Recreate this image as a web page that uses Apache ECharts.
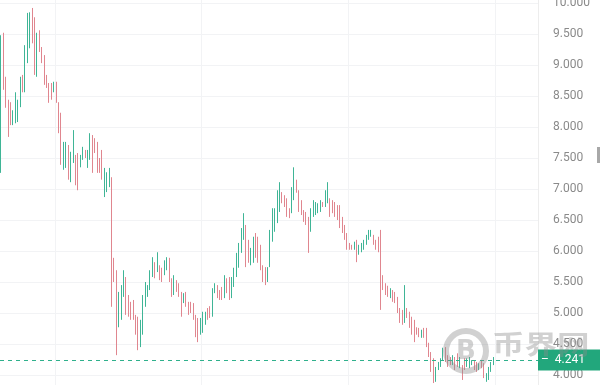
<!DOCTYPE html>
<html>
<head>
<meta charset="utf-8">
<script src="https://cdn.jsdelivr.net/npm/echarts@6/dist/echarts.min.js"></script>
<style>
  html, body { margin: 0; padding: 0; background: #fff; }
  #main { width: 600px; height: 385px; }
</style>
</head>
<body>
<div id="main"></div>
<script>
// daily candles, each row: [open, close, low, high]
const ohlc = [
  [7.26, 9.40, 7.26, 9.48], [9.46, 8.63, 8.60, 9.52], [8.81, 8.31, 8.31, 8.81], [8.44, 7.84, 7.84, 8.44], [8.40, 8.03, 8.03, 8.40],
  [8.03, 8.27, 8.03, 8.27], [8.06, 8.56, 8.06, 8.56], [8.08, 8.44, 8.08, 8.44], [8.32, 8.81, 8.32, 8.81], [8.84, 8.56, 8.56, 8.84],
  [8.56, 9.32, 8.56, 9.32], [9.03, 9.84, 9.03, 9.84], [9.27, 9.85, 9.27, 9.85], [9.92, 9.35, 9.35, 9.92], [9.77, 8.84, 8.84, 9.77],
  [8.81, 9.52, 8.81, 9.52], [9.56, 9.21, 9.21, 9.56], [9.29, 9.03, 9.03, 9.29], [9.16, 8.68, 8.68, 9.16], [8.84, 8.63, 8.63, 8.84],
  [8.71, 8.39, 8.39, 8.71], [8.71, 8.44, 8.44, 8.71], [8.56, 8.73, 8.56, 8.73], [8.73, 8.39, 8.39, 8.73], [8.40, 7.90, 7.90, 8.40],
  [8.23, 7.39, 7.39, 8.23], [7.31, 7.76, 7.31, 7.76], [7.34, 7.76, 7.34, 7.76], [7.71, 7.15, 7.15, 7.71], [7.11, 7.60, 7.11, 7.60],
  [7.42, 7.95, 7.42, 7.95], [7.55, 7.06, 7.06, 7.55], [7.58, 6.98, 6.98, 7.58], [7.35, 7.55, 7.35, 7.55], [7.47, 7.68, 7.47, 7.68],
  [7.63, 7.50, 7.50, 7.63], [7.34, 7.63, 7.34, 7.63], [7.47, 7.90, 7.47, 7.90], [7.87, 7.26, 7.26, 7.87], [7.82, 7.58, 7.58, 7.82],
  [7.76, 7.26, 7.26, 7.76], [7.50, 7.26, 7.26, 7.50], [7.63, 7.15, 7.15, 7.63], [6.87, 7.34, 6.87, 7.34], [6.95, 7.27, 6.95, 7.27],
  [7.03, 7.34, 7.03, 7.34], [7.18, 5.10, 5.10, 7.19], [5.89, 5.50, 5.50, 5.89], [5.69, 4.92, 4.32, 5.69], [4.77, 5.34, 4.77, 5.34],
  [4.89, 5.45, 4.89, 5.45], [5.26, 5.69, 5.26, 5.69], [5.58, 4.97, 4.97, 5.58], [5.29, 4.94, 4.94, 5.29], [5.18, 4.89, 4.89, 5.18],
  [5.21, 4.89, 4.89, 5.21], [4.97, 4.65, 4.65, 4.97], [4.94, 4.40, 4.40, 4.94], [4.45, 4.89, 4.45, 4.89], [4.65, 5.29, 4.65, 5.29],
  [5.10, 5.50, 5.10, 5.50], [5.26, 5.45, 5.26, 5.45], [5.37, 5.69, 5.37, 5.69], [5.58, 5.90, 5.58, 5.90], [5.82, 5.56, 5.56, 5.82],
  [5.66, 5.98, 5.66, 5.98], [5.77, 5.53, 5.53, 5.77], [5.73, 5.50, 5.50, 5.73], [5.61, 5.85, 5.61, 5.85], [5.69, 5.90, 5.69, 5.90],
  [5.89, 5.50, 5.50, 5.89], [5.56, 5.26, 5.26, 5.56], [5.29, 5.61, 5.29, 5.61], [5.53, 5.34, 5.34, 5.53], [5.48, 5.26, 5.26, 5.48],
  [5.34, 4.94, 4.94, 5.34], [5.16, 5.32, 5.16, 5.32], [5.34, 5.10, 5.10, 5.34], [5.18, 4.97, 4.97, 5.18], [5.18, 5.00, 5.00, 5.18],
  [5.16, 4.89, 4.89, 5.16], [4.97, 4.61, 4.61, 4.97], [4.92, 4.53, 4.53, 4.92], [4.65, 4.92, 4.65, 4.92], [4.68, 5.02, 4.68, 5.02],
  [4.81, 5.02, 4.81, 5.02], [5.08, 4.89, 4.89, 5.08], [5.11, 4.92, 4.92, 5.11], [4.94, 5.40, 4.94, 5.40], [5.32, 5.48, 5.32, 5.48],
  [5.45, 5.24, 5.24, 5.45], [5.37, 5.21, 5.21, 5.37], [5.42, 5.21, 5.21, 5.42], [5.24, 5.61, 5.24, 5.61], [5.56, 5.32, 5.32, 5.56],
  [5.58, 5.21, 5.21, 5.58], [5.24, 5.58, 5.24, 5.58], [5.42, 5.73, 5.42, 5.73], [5.58, 5.97, 5.58, 5.97], [5.73, 6.13, 5.73, 6.13],
  [5.97, 6.37, 5.97, 6.37], [6.18, 6.61, 6.18, 6.61], [6.42, 5.74, 5.74, 6.42], [6.18, 5.81, 5.81, 6.18], [5.77, 6.05, 5.77, 6.05],
  [5.81, 6.23, 5.81, 6.23], [6.29, 5.89, 5.89, 6.29], [6.23, 5.81, 5.81, 6.23], [6.10, 5.69, 5.69, 6.10], [5.77, 5.50, 5.50, 5.77],
  [5.74, 5.45, 5.45, 5.74], [5.50, 5.74, 5.50, 5.74], [5.74, 6.34, 5.74, 6.34], [6.15, 6.69, 6.15, 6.69], [6.31, 6.69, 6.31, 6.69],
  [6.45, 6.98, 6.45, 6.98], [6.63, 7.11, 6.63, 7.11], [6.95, 6.77, 6.77, 6.95], [6.90, 6.71, 6.71, 6.90], [6.85, 6.55, 6.55, 6.85],
  [6.69, 6.53, 6.53, 6.69], [6.61, 7.03, 6.61, 7.03], [6.82, 7.27, 6.82, 7.35], [7.15, 6.94, 6.94, 7.15], [6.98, 6.63, 6.63, 6.98],
  [6.82, 6.58, 6.58, 6.82], [6.66, 6.47, 6.47, 6.66], [6.63, 6.42, 6.42, 6.63], [6.55, 5.97, 5.97, 6.55], [6.31, 6.69, 6.31, 6.69],
  [6.55, 6.82, 6.55, 6.82], [6.58, 6.79, 6.58, 6.79], [6.61, 6.77, 6.61, 6.77], [6.63, 6.82, 6.63, 6.82], [6.79, 6.71, 6.71, 6.79],
  [6.71, 6.98, 6.71, 6.98], [6.77, 7.11, 6.77, 7.11], [6.85, 6.55, 6.55, 6.85], [6.82, 6.61, 6.61, 6.82], [6.79, 6.55, 6.55, 6.79],
  [6.74, 6.50, 6.50, 6.74], [6.74, 6.37, 6.37, 6.74], [6.55, 6.29, 6.29, 6.55], [6.42, 6.18, 6.18, 6.42], [6.29, 6.02, 6.02, 6.29],
  [6.13, 6.02, 6.02, 6.13], [6.10, 6.02, 6.02, 6.10], [6.02, 6.15, 6.02, 6.15], [6.18, 5.82, 5.82, 6.18], [5.94, 6.10, 5.94, 6.10],
  [5.98, 6.13, 5.98, 6.13], [6.02, 6.18, 6.02, 6.18], [6.10, 6.26, 6.10, 6.26], [6.18, 6.34, 6.18, 6.34], [6.23, 6.34, 6.23, 6.34],
  [6.26, 6.10, 6.10, 6.26], [6.18, 6.02, 6.02, 6.18], [6.23, 5.98, 5.98, 6.23], [6.34, 5.05, 5.05, 6.34], [5.61, 5.37, 5.37, 5.61],
  [5.48, 5.29, 5.29, 5.48], [5.44, 5.26, 5.26, 5.44], [5.24, 5.40, 5.24, 5.40], [5.37, 5.18, 5.18, 5.37], [5.34, 5.16, 5.16, 5.34],
  [5.26, 5.00, 5.00, 5.26], [5.08, 4.84, 4.84, 5.08], [5.05, 4.81, 4.81, 5.05], [4.84, 5.45, 4.84, 5.45], [5.08, 4.92, 4.92, 5.08],
  [5.02, 4.76, 4.76, 5.02], [4.94, 4.65, 4.65, 4.94], [4.89, 4.53, 4.53, 4.89], [4.77, 4.65, 4.65, 4.77], [4.76, 4.61, 4.61, 4.76],
  [4.60, 4.73, 4.60, 4.73], [4.76, 4.60, 4.60, 4.76], [4.76, 4.45, 4.45, 4.76], [4.52, 4.29, 4.29, 4.52], [4.37, 4.05, 4.05, 4.37],
  [4.27, 3.87, 3.87, 4.27], [3.89, 4.13, 3.89, 4.13], [4.08, 4.21, 4.08, 4.21], [4.13, 4.27, 4.13, 4.27], [4.24, 4.44, 4.24, 4.44],
  [4.45, 4.21, 4.21, 4.45], [4.32, 4.13, 4.13, 4.32], [4.29, 4.16, 4.16, 4.29], [4.16, 4.32, 4.16, 4.32], [4.29, 4.08, 4.08, 4.29],
  [4.35, 4.13, 4.13, 4.35], [4.11, 4.29, 4.11, 4.29], [4.16, 3.92, 3.92, 4.16], [4.27, 4.08, 4.08, 4.27], [4.13, 4.27, 4.13, 4.27],
  [4.11, 4.29, 4.11, 4.29], [4.16, 4.24, 4.16, 4.24], [4.24, 4.08, 4.08, 4.24], [4.21, 4.05, 4.05, 4.21], [4.08, 4.19, 4.08, 4.19],
  [4.24, 4.11, 4.11, 4.24], [4.19, 3.95, 3.95, 4.19], [3.89, 4.03, 3.89, 4.03], [3.92, 4.13, 3.92, 4.13], [4.05, 4.21, 4.05, 4.21],
  [4.16, 4.241, 4.16, 4.29]
];
const lastPrice = 4.241;
// empty days kept on the right of the last candle
const emptySlots = 18;

const categories = [];
for (let i = 0; i < ohlc.length + emptySlots; i++) {
  categories.push('d' + i);
}

const green = '#3fb596';
const red = '#e0868f';
const gridColor = '#f2f3f5';

const chart = echarts.init(document.getElementById('main'));

const option = {
  animation: false,
  backgroundColor: '#fff',
  grid: {
    left: 0,
    right: 62,
    top: -28,
    bottom: -21,
    outerBoundsMode: 'none'
  },
  xAxis: {
    type: 'category',
    data: categories,
    axisLine: { show: false },
    axisTick: { show: false },
    axisLabel: { show: false },
    splitLine: {
      show: true,
      interval: (idx) => idx % 61 === 23,
      lineStyle: { color: gridColor, width: 1 }
    }
  },
  yAxis: {
    type: 'value',
    position: 'right',
    min: 3.5,
    max: 10.5,
    interval: 0.5,
    axisLine: { show: true, lineStyle: { color: '#ededed' } },
    axisTick: { show: false },
    axisLabel: {
      margin: 15,
      color: '#8a8a8a',
      fontSize: 12,
      fontFamily: 'Roboto',
      formatter: (v) => v.toFixed(3)
    },
    splitLine: { lineStyle: { color: gridColor, width: 1 } }
  },
  series: [
    {
      type: 'candlestick',
      data: ohlc,
      barWidth: 1,
      itemStyle: {
        color: green,
        color0: red,
        borderColor: green,
        borderColor0: red,
        borderWidth: 1
      },
      markLine: {
        silent: true,
        symbol: ['none', 'none'],
        data: [{ yAxis: lastPrice }],
        lineStyle: { color: '#2fb08c', type: [4, 4], width: 1, opacity: 1 },
        label: {
          show: true,
          position: 'end',
          distance: 0,
          formatter: '–  ' + lastPrice.toFixed(3),
          color: '#fff',
          fontSize: 12,
          fontFamily: 'Roboto',
          lineHeight: 13,
          backgroundColor: '#22a77c',
          padding: [4, 16, 4, 3]
        }
      }
    }
  ],
  graphic: [
    // watermark
    {
      type: 'circle',
      z: 100,
      shape: { cx: 466, cy: 351, r: 20 },
      style: { fill: 'none', stroke: 'rgba(140,140,140,0.4)', lineWidth: 6 }
    },
    {
      type: 'text',
      z: 100,
      x: 466,
      y: 352,
      style: {
        text: 'B',
        align: 'center',
        verticalAlign: 'middle',
        fontSize: 26,
        fontWeight: 'bold',
        fontFamily: 'DejaVu Sans',
        fill: 'rgba(140,140,140,0.4)'
      }
    },
    {
      type: 'text',
      z: 100,
      x: 492,
      y: 344,
      scaleX: 1.25,
      style: {
        text: '币界网',
        verticalAlign: 'middle',
        fontSize: 26,
        fontWeight: 'bold',
        fontFamily: 'Noto Sans CJK SC',
        fill: 'rgba(140,140,140,0.4)'
      }
    },
    {
      type: 'rect',
      z: 100,
      shape: { x: 597, y: 147, width: 3, height: 16 },
      style: { fill: '#a8a8a8' }
    }
  ]
};

chart.setOption(option);
</script>
</body>
</html>
